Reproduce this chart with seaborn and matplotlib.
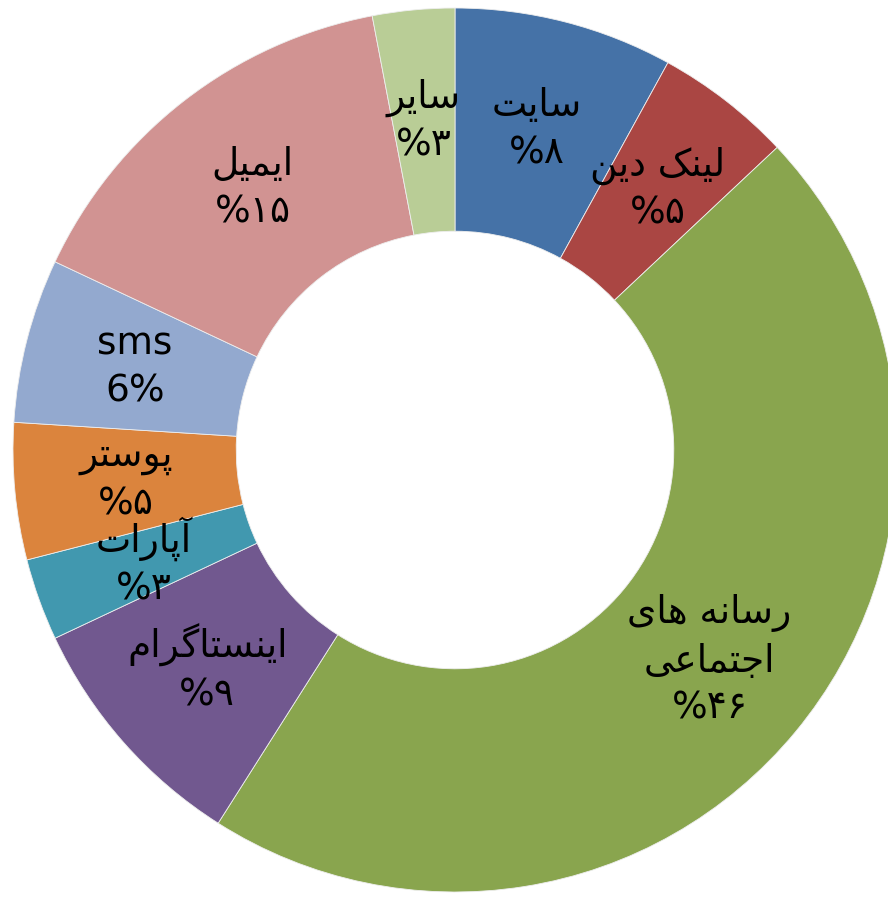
import numpy as np
import matplotlib
matplotlib.use("Agg")
import matplotlib.pyplot as plt
import seaborn as sns

# data, clockwise from the top
names = ["سایت", "لینک دین", "رسانه های\nاجتماعی", "اینستاگرام", "آپارات",
         "پوستر", "sms", "ایمیل", "سایر"]
shares = [8, 5, 46, 9, 3, 5, 6, 15, 3]
pct_labels = ["%۸", "%۵", "%۴۶", "%۹", "%۳", "%۵", "6%", "%۱۵", "%۳"]
colors = ["#4572A7", "#AA4643", "#89A54E", "#71588F", "#4198AF",
          "#DB843D", "#93A9CF", "#D19392", "#B9CD96"]

# matplotlib has no Arabic shaping, so pick presentation forms by hand
# (isolated, final, initial, medial)
FORMS = {
    "ا": ("\uFE8D", "\uFE8E", None, None),
    "آ": ("\uFE81", "\uFE82", None, None),
    "پ": ("\uFB56", "\uFB57", "\uFB58", "\uFB59"),
    "ت": ("\uFE95", "\uFE96", "\uFE97", "\uFE98"),
    "ج": ("\uFE9D", "\uFE9E", "\uFE9F", "\uFEA0"),
    "د": ("\uFEA9", "\uFEAA", None, None),
    "ر": ("\uFEAD", "\uFEAE", None, None),
    "س": ("\uFEB1", "\uFEB2", "\uFEB3", "\uFEB4"),
    "ع": ("\uFEC9", "\uFECA", "\uFECB", "\uFECC"),
    "گ": ("\uFB92", "\uFB93", "\uFB94", "\uFB95"),
    "ک": ("\uFB8E", "\uFB8F", "\uFB90", "\uFB91"),
    "ل": ("\uFEDD", "\uFEDE", "\uFEDF", "\uFEE0"),
    "م": ("\uFEE1", "\uFEE2", "\uFEE3", "\uFEE4"),
    "ن": ("\uFEE5", "\uFEE6", "\uFEE7", "\uFEE8"),
    "ه": ("\uFEE9", "\uFEEA", "\uFEEB", "\uFEEC"),
    "و": ("\uFEED", "\uFEEE", None, None),
    "ی": ("\uFEEF", "\uFEF0", "\uFEF3", "\uFEF4"),
}


def shape_line(text):
    if not any(ch in FORMS for ch in text):
        return text
    out = []
    for i, ch in enumerate(text):
        f = FORMS.get(ch)
        if f is None:
            out.append(ch)
            continue
        prev = text[i - 1] if i > 0 else ""
        nxt = text[i + 1] if i + 1 < len(text) else ""
        join_prev = prev in FORMS and FORMS[prev][2] is not None
        join_next = nxt in FORMS and f[2] is not None
        if join_prev and join_next:
            out.append(f[3])
        elif join_prev:
            out.append(f[1])
        elif join_next:
            out.append(f[2])
        else:
            out.append(f[0])
    return "".join(reversed(out))


def shape(text):
    return "\n".join(shape_line(line) for line in text.split("\n"))


sns.set_style("white")
plt.rcParams["font.family"] = ["DejaVu Sans"]

W, H = 888, 897
fig = plt.figure(figsize=(W / 100, H / 100), dpi=100)
ax = fig.add_axes([0, 0, 1, 1])

R = 442.0
cx, cy = 455.0, 450.0
ring = 0.505

wedges, _ = ax.pie(
    shares, colors=sns.color_palette(colors), startangle=90, counterclock=False,
    radius=1.0, wedgeprops=dict(width=ring, edgecolor="#eeeeee", linewidth=0.6),
)

mid_r = 1.0 - ring / 2
for w, name, pct in zip(wedges, names, pct_labels):
    ang = np.deg2rad((w.theta1 + w.theta2) / 2)
    x, y = mid_r * np.cos(ang), mid_r * np.sin(ang)
    ax.text(x, y, shape(name) + "\n" + pct, ha="center", va="center",
            fontsize=27, color="black", linespacing=1.4)

ax.set_xlim(-cx / R, (W - cx) / R)
ax.set_ylim(-(H - cy) / R, cy / R)
ax.set_aspect("auto")
ax.axis("off")

fig.savefig("out.png", dpi=100)
